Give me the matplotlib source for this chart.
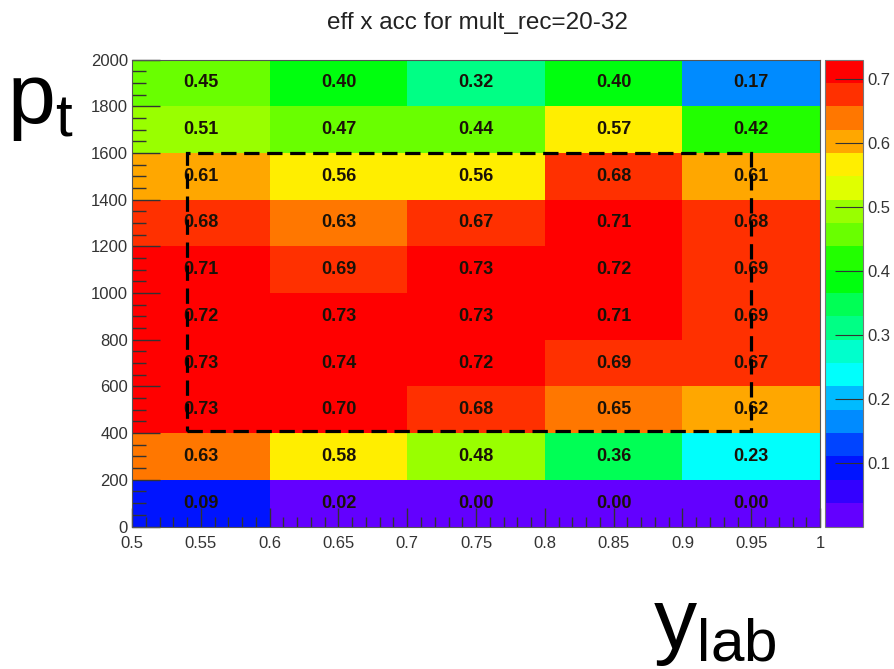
import colorsys

import numpy as np
from matplotlib import pyplot as plt
from matplotlib.colors import ListedColormap, Normalize
from matplotlib.patches import Rectangle
from matplotlib.ticker import MultipleLocator

# bin edges
y_lab_edges = [0.5, 0.6, 0.7, 0.8, 0.9, 1.0]
pt_edges = [0, 200, 400, 600, 800, 1000, 1200, 1400, 1600, 1800, 2000]

# eff x acc per bin, rows from pt=0 upwards, columns in y_lab
eff_acc = [
  [0.09, 0.02, 0.00, 0.00, 0.00],
  [0.63, 0.58, 0.48, 0.36, 0.23],
  [0.73, 0.70, 0.68, 0.65, 0.62],
  [0.73, 0.74, 0.72, 0.69, 0.67],
  [0.72, 0.73, 0.73, 0.71, 0.69],
  [0.71, 0.69, 0.73, 0.72, 0.69],
  [0.68, 0.63, 0.67, 0.71, 0.68],
  [0.61, 0.56, 0.56, 0.68, 0.61],
  [0.51, 0.47, 0.44, 0.57, 0.42],
  [0.45, 0.40, 0.32, 0.40, 0.17],
]

# z range of the palette
z_min, z_max = 0.0, 0.73

# selection window
sel_y = (0.54, 0.95)
sel_pt = (410, 1600)

title = "eff x acc for mult_rec=20-32"


def root_palette(ncont = 20, npal = 50):
  '''violet -> red "pretty" palette, sampled like COLZ contours'''
  colors = []
  for i in range(ncont):
    j = int((i + 0.99) * npal / ncont)
    hue = 280.0 - (j + 1) * 280.0 / npal
    colors.append(colorsys.hls_to_rgb(hue / 360.0, 0.5, 1.0))
  return ListedColormap(colors)


z = np.array(eff_acc)
cmap = root_palette()
norm = Normalize(vmin = z_min, vmax = z_max)

plt.rcParams["font.family"] = ["Liberation Sans", "DejaVu Sans"]
plt.rcParams["mathtext.fontset"] = "custom"
plt.rcParams["mathtext.rm"] = "Liberation Sans"
plt.rcParams["mathtext.it"] = "Liberation Sans"

fig = plt.figure(figsize = (8.94, 6.69), dpi = 100)
ax = fig.add_axes([0.1477, 0.213, 0.7696, 0.698])
cax = fig.add_axes([0.9228, 0.213, 0.0425, 0.698])

mesh = ax.pcolormesh(y_lab_edges, pt_edges, z, cmap = cmap, norm = norm)

xc = 0.5 * (np.array(y_lab_edges[:-1]) + np.array(y_lab_edges[1:]))
yc = 0.5 * (np.array(pt_edges[:-1]) + np.array(pt_edges[1:]))
for r, y in enumerate(yc):
  for c, x in enumerate(xc):
    ax.text(x, y, "%.2f" % z[r, c], ha = "center", va = "center",
      fontsize = 13, fontweight = "bold", color = "#1a1208")

ax.add_patch(Rectangle(
  (sel_y[0], sel_pt[0]), sel_y[1] - sel_y[0], sel_pt[1] - sel_pt[0],
  fill = False, edgecolor = "black", linewidth = 2.3,
  linestyle = (0, (4.8, 2.4)), zorder = 5,
))

ax.set_xlim(0.5, 1.0)
ax.set_ylim(0, 2000)
ax.xaxis.set_major_locator(MultipleLocator(0.05))
ax.xaxis.set_minor_locator(MultipleLocator(0.01))
ax.yaxis.set_major_locator(MultipleLocator(200))
ax.yaxis.set_minor_locator(MultipleLocator(50))
ax.xaxis.set_major_formatter(lambda v, pos: ("%g" % round(v, 2)))
ax.tick_params(which = "both", direction = "in", colors = "#333333",
  labelsize = 12, width = 1)
ax.tick_params(axis = "y", which = "major", length = 20, pad = 3)
ax.tick_params(axis = "y", which = "minor", length = 10)
ax.tick_params(axis = "x", which = "major", length = 14, pad = 7)
ax.tick_params(axis = "x", which = "minor", length = 7)
for spine in ax.spines.values():
  spine.set_linewidth(0.8)
  spine.set_color("#555555")

cb = fig.colorbar(mesh, cax = cax, ticks = [0.1, 0.2, 0.3, 0.4, 0.5, 0.6, 0.7])
cb.ax.yaxis.set_ticks_position("right")
cb.ax.tick_params(direction = "in", length = 20, colors = "#333333",
  labelsize = 12, pad = 3)
cb.outline.set_linewidth(0.8)
cb.outline.set_edgecolor("#777777")

fig.text(0.534, 0.966, title, ha = "center", va = "center",
  fontsize = 17.5, color = "#222222")
fig.text(0.008, 0.846, r"$\mathrm{p}_\mathrm{t}$", fontsize = 62,
  ha = "left", va = "center")
fig.text(0.73, 0.062, r"$\mathrm{y}_\mathrm{lab}$", fontsize = 62,
  ha = "left", va = "center")

fig.savefig("out.png", dpi = 100)
